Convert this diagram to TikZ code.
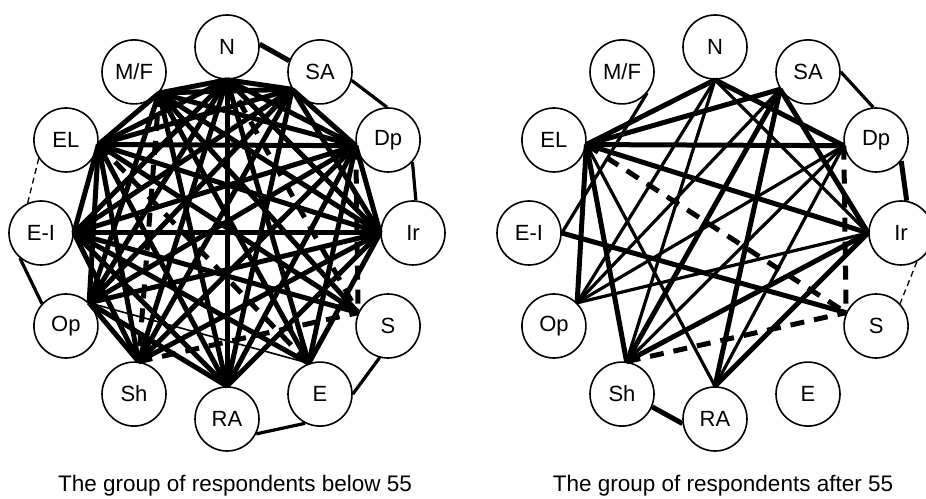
\documentclass[tikz,border=0pt]{standalone}
\usepackage{fontspec}
\setmainfont{Liberation Sans}
\usetikzlibrary{calc}

\tikzset{
  nd/.style={draw,circle,line width=1.6pt,minimum size=64pt,inner sep=0pt,
    font=\fontsize{22}{26}\selectfont},
  hv/.style={line width=5pt},
  md/.style={line width=3.2pt},
  lt/.style={line width=1.6pt},
  dsh/.style={line width=5pt,dash pattern=on 14pt off 10pt},
  tdsh/.style={line width=1.3pt,dash pattern=on 6pt off 4pt},
  captxt/.style={font=\fontsize{22.5}{26}\selectfont}
}

\begin{document}
\begin{tikzpicture}[x=1pt,y=1pt]
 \useasboundingbox (0,0) rectangle (926,498);
 % the two rings of nodes
 \foreach \g/\cx in {L/227,R/715}{
  \foreach \n/\t/\a in {N/N/90,SA/SA/60,Dp/Dp/30,Ir/Ir/0,S/S/-30,E/E/-60,
      RA/RA/-90,Sh/Sh/-120,Op/Op/-150,EI/E-I/180,EL/EL/150,MF/{M/F}/120}
   \node[nd] (\g\n) at ([shift={(\a:186)}]\cx,265) {\t};
 }
 % points where the inner lines meet a node
 \foreach \g in {L,R}{
  \foreach \n/\a in {N/270,SA/212,Dp/190,Ir/180,S/156,E/110,RA/90,Sh/82,
      Op/45,EI/0,EL/352,MF/320}
   \coordinate (\g\n a) at (\g\n.\a);
 }
 \node[captxt] (capL) at (235,12) {The group of respondents below 55};
 \node[captxt] (capR) at (723,12) {The group of respondents after 55};

 % below 55: outer links
 \draw[hv] (LN.5) -- (LSA.160);
 \draw[md] (LSA.345) -- (LDp.92);
 \draw[md] (LDp.318) -- (LIr.85);
 \draw[tdsh] (LEL.214) -- (LEI.114);
 \draw[md] (LEI.230) -- (LOp.137);
 \draw[md] (LS.255) -- (LE.0);
 \draw[md] (LE.243) -- (LRA.333);
 % below 55: inner links
 \foreach \p/\q in {N/MF,N/SA,N/EL,N/Dp,N/EI,N/Ir,N/Op,N/Sh,N/RA,N/E,
     MF/SA,MF/EL,MF/Dp,MF/Ir,MF/Op,MF/RA,MF/E,MF/S,
     SA/Dp,SA/EL,SA/EI,SA/Ir,SA/Op,SA/Sh,SA/RA,
     EL/Dp,EL/EI,EL/Ir,EL/Op,EL/Sh,EL/RA,EL/S,
     Dp/Ir,Dp/EI,Dp/Op,Dp/Sh,Dp/RA,Dp/E,
     EI/Ir,EI/Sh,EI/RA,EI/E,EI/S,
     Ir/Op,Ir/Sh,Ir/RA,Ir/E,Op/Sh,Op/RA}
  \draw[hv] (L\p a) -- (L\q a);
 \foreach \p/\q in {EL/E,Dp/S,Sh/S,N/S,MF/Sh}
  \draw[dsh] (L\p a) -- (L\q a);
 \draw[lt] (LOpa) -- (LEa);

 % after 55: outer links
 \draw[md] (RSA.0) -- (RDp.95);
 \draw[hv] (RDp.320) -- (RIr.80);
 \draw[tdsh] (RIr.299) -- (RS.43);
 \draw[hv] (RSh.337) -- (RRA.188);
 % after 55: inner links
 \foreach \p/\q in {N/EL,N/Dp,SA/EL,SA/Ir,EL/Dp,EL/Ir,EL/Sh,EL/Op,EI/S,
     RA/Ir,Sh/Ir,SA/Sh,SA/RA}
  \draw[hv] (R\p a) -- (R\q a);
 \foreach \p/\q in {N/Ir,N/Sh,MF/EI,SA/Op,Op/Ir,Op/Dp,Op/N,EL/RA,
     Dp/RA,Sh/Dp}
  \draw[md] (R\p a) -- (R\q a);
 \foreach \p/\q in {EL/S,Dp/S,Sh/S}
  \draw[dsh] (R\p a) -- (R\q a);
\end{tikzpicture}
\end{document}
